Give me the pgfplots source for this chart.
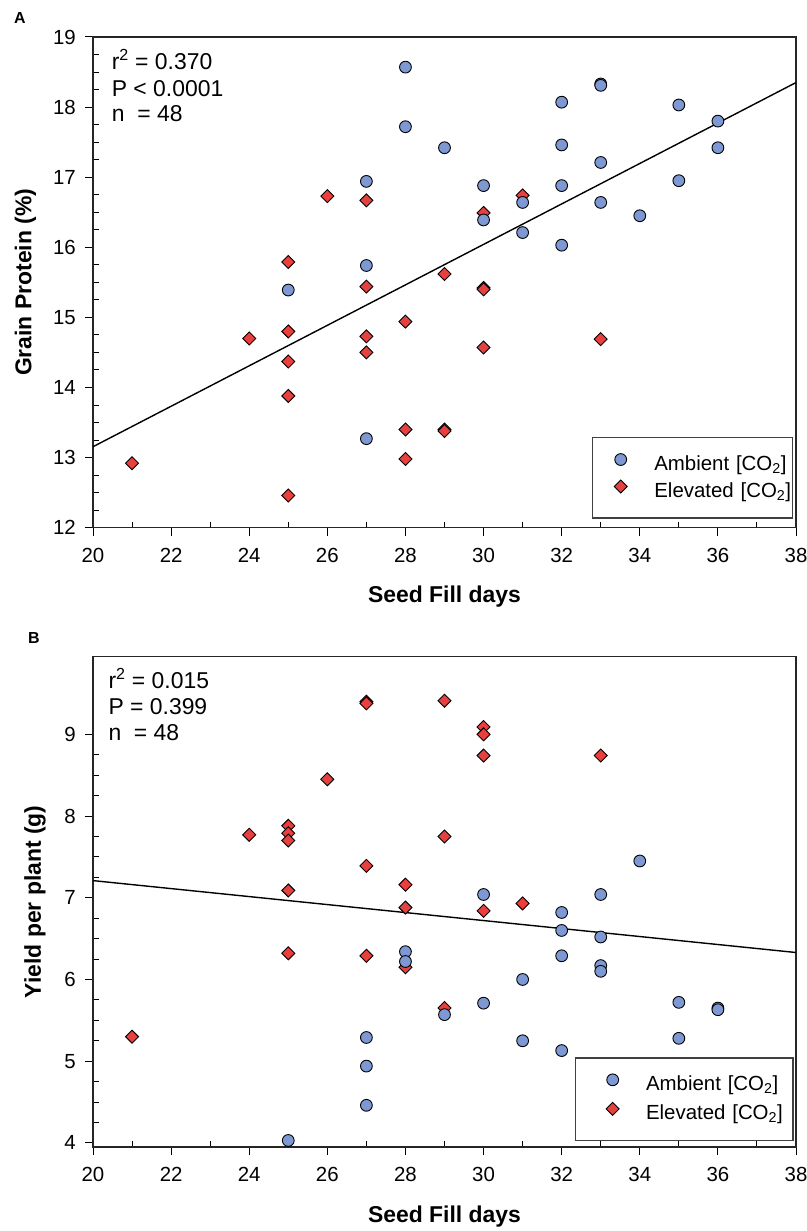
\documentclass[border=0pt]{standalone}
\usepackage{fontspec}
\setmainfont{Liberation Sans}
\usepackage{pgfplots}
\pgfplotsset{compat=1.18}
\definecolor{amb}{RGB}{125,152,210}
\definecolor{elev}{RGB}{232,64,62}
\pgfplotsset{
  panel/.style={
    scale only axis, width=703bp,
    xmin=20, xmax=38, xtick={20,22,...,38}, minor x tick num=1,
    axis line style={line width=1.2bp, black!85},
    tick align=inside, tick pos=left,
    major tick length=8bp, minor tick length=6bp,
    major x tick style={yshift=-8bp}, major y tick style={xshift=-8bp},
    every tick/.append style={black, line width=1bp},
    /pgf/number format/assume math mode=true,
    tick label style={font=\fontsize{20.5}{24}\selectfont, inner sep=0pt},
    xticklabel style={anchor=north, yshift=-20bp},
    yticklabel style={anchor=east, xshift=-17bp},
    label style={font=\bfseries\fontsize{23}{27}\selectfont},
    xlabel style={at={(axis description cs:0.5,0)}, anchor=base, yshift=-75bp},
    clip=false, reverse legend,
    legend style={draw=black!75, line width=1.3bp, inner xsep=0pt, inner ysep=16bp,
      row sep=5bp, column sep=0pt, fill=white,
      font=\fontsize{20.5}{24}\selectfont},
    legend cell align=left,
  },
  ambst/.style={only marks, mark=*, mark size=5.9bp,
    mark options={fill=amb, draw=black, line width=0.9bp}},
  elevst/.style={only marks, mark=square*, mark size=4.6bp,
    mark options={rotate=45, fill=elev, draw=black, line width=0.9bp}},
  legA/.style={legend image code/.code={\path (-27.7bp,0) (33bp,0); \draw[##1] plot coordinates {(0bp,5.5bp)};}},
  legB/.style={legend image code/.code={\path (-36.3bp,0) (32.7bp,0); \draw[##1] plot coordinates {(0bp,5.5bp)};}},
}
\begin{document}
\begin{tikzpicture}
\path[use as bounding box] (0,0) rectangle (807bp,1231bp);
\node[anchor=base west, inner sep=0pt, font=\bfseries\fontsize{16}{19}\selectfont] at (14bp,1207bp) {A};
\node[anchor=base west, inner sep=0pt, font=\bfseries\fontsize{16}{19}\selectfont] at (28bp,587bp) {B};
% Panel A
\begin{axis}[panel, at={(93bp,703.3bp)}, anchor=south west, height=490.7bp,
  ymin=12, ymax=19, ytick={12,...,19}, minor y tick num=3,
  xlabel={Seed Fill days}, ylabel={Grain Protein (\%)},
  ylabel style={at={([xshift=-61.5bp]axis description cs:0,0.5)}, anchor=base},
  legend style={at={(1,0)}, anchor=south east, xshift=-3bp, yshift=9bp,
    nodes={inner sep=0pt, text height=15bp, text depth=5bp, text width=138bp,
      font=\fontsize{20.5}{24}\selectfont}},
]
\addplot[black, line width=1.4bp, forget plot] coordinates {(20,13.155) (38,18.35)};
\addplot[elevst, legA] coordinates {
(21,12.92) (24,14.70)
(25,15.79) (25,14.80) (25,14.37) (25,13.88) (25,12.46)
(26,16.73)
(27,16.67) (27,15.44) (27,14.73) (27,14.50)
(28,14.94) (28,13.40) (28,12.98)
(29,15.62) (29,13.40) (29,13.38)
(30,16.49) (30,15.42) (30,15.40) (30,14.57)
(31,16.74) (33,14.69)};
\addlegendentry{Elevated [CO\textsubscript{2}]}
\addplot[ambst, legA] coordinates {
(25,15.39)
(27,16.94) (27,15.74) (27,13.27)
(28,18.57) (28,17.72)
(29,17.42)
(30,16.88) (30,16.39)
(31,16.64) (31,16.21)
(32,18.07) (32,17.46) (32,16.88) (32,16.03)
(33,18.33) (33,18.31) (33,17.21) (33,16.64)
(34,16.45)
(35,18.03) (35,16.95)
(36,17.80) (36,17.42)};
\addlegendentry{Ambient [CO\textsubscript{2}]}
\node[anchor=base west, font=\fontsize{23}{26}\selectfont] at ([xshift=15.3bp,yshift=-33bp]axis description cs:0,1) {r\textsuperscript{2} = 0.370};
\node[anchor=base west, font=\fontsize{23}{26}\selectfont] at ([xshift=15.3bp,yshift=-59.7bp]axis description cs:0,1) {P < 0.0001};
\node[anchor=base west, font=\fontsize{23}{26}\selectfont] at ([xshift=15.3bp,yshift=-84.7bp]axis description cs:0,1) {n\ \ = 48};
\end{axis}
% Panel B
\begin{axis}[panel, at={(93bp,84bp)}, anchor=south west, height=490.3bp,
  ymin=3.95, ymax=9.95, ytick={4,...,9}, minor y tick num=3,
  xlabel={Seed Fill days}, ylabel={Yield per plant (g)},
  ylabel style={at={([xshift=-52bp]axis description cs:0,0.5)}, anchor=base},
  legend style={at={(1,0)}, anchor=south east, xshift=-2.3bp, yshift=6bp, row sep=7bp,
    nodes={inner sep=0pt, text height=15bp, text depth=5bp, text width=147bp,
      font=\fontsize{20.5}{24}\selectfont}},
]
\addplot[black, line width=1.4bp, forget plot] coordinates {(20,7.21) (38,6.33)};
\addplot[elevst, legB] coordinates {
(21,5.30) (24,7.77)
(25,7.88) (25,7.79) (25,7.70) (25,7.09) (25,6.32)
(26,8.45)
(27,9.40) (27,9.38) (27,7.39) (27,6.29)
(28,7.16) (28,6.88) (28,6.15)
(29,9.41) (29,7.75) (29,5.65)
(30,9.09) (30,9.00) (30,8.74) (30,6.84)
(31,6.93) (33,8.74)};
\addlegendentry{Elevated [CO\textsubscript{2}]}
\addplot[ambst, legB] coordinates {
(25,4.03)
(27,5.29) (27,4.94) (27,4.46)
(28,6.34) (28,6.22)
(29,5.57)
(30,7.04) (30,5.71)
(31,6.00) (31,5.25)
(32,6.82) (32,6.60) (32,6.29) (32,5.13)
(33,7.04) (33,6.52) (33,6.17) (33,6.10)
(34,7.45)
(35,5.72) (35,5.28)
(36,5.65) (36,5.63)};
\addlegendentry{Ambient [CO\textsubscript{2}]}
\node[anchor=base west, font=\fontsize{23}{26}\selectfont] at ([xshift=12bp,yshift=-31.6bp]axis description cs:0,1) {r\textsuperscript{2} = 0.015};
\node[anchor=base west, font=\fontsize{23}{26}\selectfont] at ([xshift=12bp,yshift=-57.3bp]axis description cs:0,1) {P = 0.399};
\node[anchor=base west, font=\fontsize{23}{26}\selectfont] at ([xshift=12bp,yshift=-83.3bp]axis description cs:0,1) {n\ \ = 48};
\end{axis}
\end{tikzpicture}
\end{document}
